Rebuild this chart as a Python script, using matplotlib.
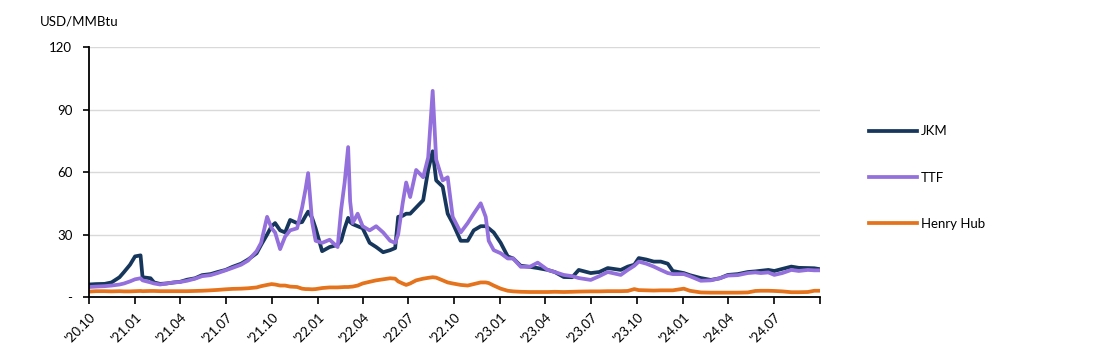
import matplotlib.pyplot as plt
import matplotlib.dates as mdates
import numpy as np
import pandas as pd

# data (USD/MMBtu)
dates = [
    "2020-10-01", "2020-10-15", "2020-11-01", "2020-11-15", "2020-12-01", "2020-12-10",
    "2020-12-22", "2021-01-01", "2021-01-12", "2021-01-16", "2021-02-01", "2021-02-08",
    "2021-02-20", "2021-03-05", "2021-03-20", "2021-04-01", "2021-04-15", "2021-05-01",
    "2021-05-15", "2021-06-01", "2021-06-15", "2021-07-01", "2021-07-15", "2021-08-01",
    "2021-08-15", "2021-09-01", "2021-09-10", "2021-09-22", "2021-10-01", "2021-10-08",
    "2021-10-18", "2021-10-28", "2021-11-07", "2021-11-21", "2021-12-01", "2021-12-08",
    "2021-12-13", "2021-12-21", "2021-12-28", "2022-01-10", "2022-01-25", "2022-02-10",
    "2022-02-17", "2022-02-24", "2022-03-03", "2022-03-07", "2022-03-12", "2022-03-22",
    "2022-04-01", "2022-04-15", "2022-04-28", "2022-05-12", "2022-05-26", "2022-06-05",
    "2022-06-11", "2022-06-20", "2022-06-27", "2022-07-05", "2022-07-17", "2022-07-31",
    "2022-08-10", "2022-08-19", "2022-08-26", "2022-09-08", "2022-09-18", "2022-09-28",
    "2022-10-14", "2022-10-28", "2022-11-09", "2022-11-23", "2022-12-03", "2022-12-09",
    "2022-12-19", "2023-01-02", "2023-01-16", "2023-01-27", "2023-02-11", "2023-03-01",
    "2023-03-17", "2023-04-06", "2023-04-20", "2023-05-08", "2023-05-25", "2023-06-07",
    "2023-07-01", "2023-07-18", "2023-08-04", "2023-08-30", "2023-09-13", "2023-09-26",
    "2023-10-05", "2023-10-20", "2023-11-04", "2023-11-18", "2023-12-02", "2023-12-12",
    "2024-01-03", "2024-01-15", "2024-02-06", "2024-02-26", "2024-03-15", "2024-03-31",
    "2024-04-20", "2024-05-10", "2024-05-25", "2024-06-05", "2024-06-20", "2024-07-02",
    "2024-07-18", "2024-08-05", "2024-08-20", "2024-09-07", "2024-09-20", "2024-09-30",
]
jkm = [
    6.0, 6.2, 6.3, 7.0, 9.5, 12.0, 15.5, 19.5, 20.0, 9.5, 9.0, 7.0,
    6.3, 6.5, 7.0, 7.3, 8.3, 9.0, 10.5, 11.0, 12.0, 13.0, 14.5, 16.0,
    18.0, 21.0, 25.0, 30.0, 34.0, 35.5, 32.0, 31.0, 37.0, 35.5, 36.0, 39.0,
    41.0, 38.0, 33.0, 22.0, 24.0, 25.0, 27.0, 33.0, 38.0, 36.0, 35.0, 34.0,
    33.0, 26.0, 24.0, 21.5, 22.5, 23.5, 38.5, 39.0, 40.0, 40.0, 43.0, 46.5,
    61.0, 70.0, 56.0, 53.0, 40.0, 35.5, 27.0, 27.0, 32.0, 34.0, 34.0, 33.0,
    31.0, 26.0, 19.5, 18.5, 15.0, 14.5, 13.9, 13.0, 12.0, 9.6, 9.5, 13.0,
    11.5, 12.0, 13.9, 13.0, 14.6, 15.5, 18.7, 18.0, 17.0, 17.0, 16.0, 12.5,
    11.5, 10.5, 9.1, 8.2, 9.0, 10.6, 11.0, 12.0, 12.3, 12.6, 13.0, 12.5,
    13.5, 14.6, 14.0, 13.9, 13.8, 13.4,
]
ttf = [
    4.8, 5.0, 5.2, 5.5, 6.0, 6.5, 7.5, 8.5, 9.0, 8.0, 7.0, 6.5,
    6.0, 6.5, 7.0, 7.2, 7.8, 8.8, 10.0, 10.5, 11.5, 12.8, 14.0, 15.5,
    17.5, 22.0, 26.0, 38.5, 33.0, 31.0, 23.0, 29.0, 32.0, 33.0, 43.0, 52.0,
    59.5, 36.0, 27.0, 26.0, 27.5, 24.0, 42.0, 55.0, 72.0, 46.0, 35.5, 40.0,
    34.0, 32.0, 34.0, 31.0, 27.0, 26.0, 30.0, 45.0, 55.0, 48.0, 61.0, 57.5,
    67.0, 99.0, 66.0, 56.0, 57.5, 38.5, 31.0, 35.5, 40.0, 45.0, 38.5, 27.0,
    22.5, 21.0, 18.5, 18.5, 14.5, 14.5, 16.5, 13.0, 12.0, 10.6, 10.0, 9.1,
    8.2, 10.0, 12.0, 10.6, 13.0, 15.0, 17.0, 16.0, 14.6, 13.0, 11.5, 11.0,
    11.0, 10.0, 7.8, 8.0, 9.0, 10.3, 10.5, 11.5, 11.8, 11.5, 11.8, 10.6,
    11.5, 13.0, 12.5, 13.0, 12.8, 12.8,
]
henry_hub = [
    2.6, 2.8, 2.8, 2.7, 2.8, 2.7, 2.7, 2.8, 2.9, 2.8, 2.9, 2.9,
    2.8, 2.8, 2.8, 2.8, 2.8, 2.9, 3.0, 3.2, 3.4, 3.7, 3.9, 4.0,
    4.2, 4.6, 5.2, 5.8, 6.2, 6.0, 5.5, 5.5, 5.0, 4.8, 4.0, 3.8,
    3.8, 3.7, 3.8, 4.3, 4.6, 4.6, 4.7, 4.8, 4.8, 4.9, 5.0, 5.5,
    6.5, 7.3, 8.0, 8.5, 9.0, 8.8, 7.5, 6.5, 5.8, 6.5, 8.0, 8.8,
    9.2, 9.5, 9.3, 8.0, 7.0, 6.5, 5.8, 5.5, 6.2, 7.0, 7.0, 6.7,
    5.5, 4.0, 3.0, 2.7, 2.5, 2.4, 2.4, 2.4, 2.5, 2.4, 2.5, 2.6,
    2.7, 2.7, 2.8, 2.8, 2.9, 3.8, 3.3, 3.2, 3.1, 3.2, 3.2, 3.2,
    4.0, 3.0, 2.2, 2.1, 2.1, 2.1, 2.1, 2.2, 2.9, 3.0, 3.0, 2.9,
    2.7, 2.3, 2.3, 2.4, 3.0, 3.0,
]
tick_labels = ["'20.10", "'21.01", "'21.04", "'21.07", "'21.10", "'22.01", "'22.04",
               "'22.07", "'22.10", "'23.01", "'23.04", "'23.07", "'23.10", "'24.01",
               "'24.04", "'24.07", ""]

plt.rcParams['font.family'] = ['Lato', 'DejaVu Sans']
plt.rcParams['font.size'] = 9.5

x = pd.to_datetime(dates)
fig = plt.figure(figsize=(10.99, 3.59), dpi=100)
ax = fig.add_axes([0.081, 0.1727, 0.665, 0.696])

ax.plot(x, jkm, color='#16375b', lw=2.7, label='JKM', solid_joinstyle='round')
ax.plot(x, ttf, color='#9370db', lw=2.7, label='TTF', solid_joinstyle='round')
ax.plot(x, henry_hub, color='#e4731c', lw=2.7, label='Henry Hub', solid_joinstyle='round')

ticks = pd.date_range("2020-10-01", "2024-10-01", freq="QS-OCT")
ax.set_xlim(ticks[0], ticks[-1])
ax.set_xticks(ticks)
ax.set_xticklabels(tick_labels, rotation=45, ha='right', rotation_mode='anchor')
ax.tick_params(axis='x', length=5, width=1.2, pad=5, color='black')

ax.set_ylim(0, 120)
ax.set_yticks([0, 30, 60, 90, 120])
ax.set_yticklabels(['-', '30', '60', '90', '120'])
ax.tick_params(axis='y', length=4, width=1.2, pad=8, color='black')
ax.grid(axis='y', color='#d9d9d9', lw=1)
ax.set_axisbelow(True)

for s in ['top', 'right']:
    ax.spines[s].set_visible(False)
for s in ['left', 'bottom']:
    ax.spines[s].set_linewidth(1.3)

fig.text(40/1099, 1 - 22/359, 'USD/MMBtu', ha='left', va='center', fontsize=9.5)

fig.legend(loc='center left', bbox_to_anchor=(0.78, 0.505), frameon=False,
           handlelength=3.6, handletextpad=0.35, labelspacing=2.6)

plt.savefig("out.png", dpi=100)
